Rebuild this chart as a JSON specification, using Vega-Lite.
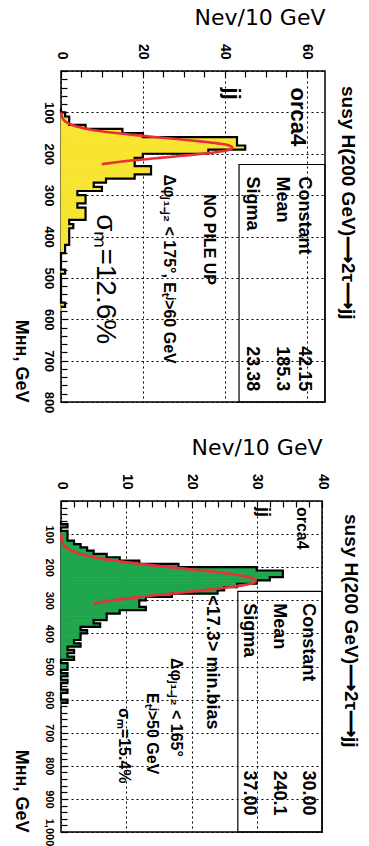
{
"$schema": "https://vega.github.io/schema/vega-lite/v6.json",
"background": "white",
"padding": {"left": 10, "top": 5, "right": 0, "bottom": 0},
"spacing": 21,
"config": {"view": {"stroke": "black", "strokeWidth": 1.5}, "font": "Liberation Sans"},
"datasets": {
"top": [
{"lo":90,"hi":100,"n":0},{"lo":100,"hi":110,"n":1},{"lo":110,"hi":120,"n":2},{"lo":120,"hi":130,"n":2},{"lo":130,"hi":140,"n":6},{"lo":140,"hi":150,"n":15},{"lo":150,"hi":160,"n":20},{"lo":160,"hi":170,"n":43},{"lo":170,"hi":180,"n":43},{"lo":180,"hi":190,"n":45},{"lo":190,"hi":200,"n":36},{"lo":200,"hi":210,"n":20},{"lo":210,"hi":220,"n":18},{"lo":220,"hi":230,"n":18},{"lo":230,"hi":240,"n":22},{"lo":240,"hi":250,"n":22},{"lo":250,"hi":260,"n":18},{"lo":260,"hi":270,"n":11},{"lo":270,"hi":280,"n":8},{"lo":280,"hi":290,"n":10},{"lo":290,"hi":300,"n":4},{"lo":300,"hi":310,"n":6},{"lo":310,"hi":320,"n":6},{"lo":320,"hi":330,"n":4},{"lo":330,"hi":340,"n":6},{"lo":340,"hi":350,"n":6},{"lo":350,"hi":360,"n":6},{"lo":360,"hi":370,"n":2},{"lo":370,"hi":380,"n":3},{"lo":380,"hi":390,"n":2},{"lo":390,"hi":400,"n":2},{"lo":400,"hi":410,"n":2},{"lo":410,"hi":420,"n":2},{"lo":420,"hi":430,"n":1},{"lo":430,"hi":440,"n":1},{"lo":440,"hi":450,"n":0},{"lo":480,"hi":490,"n":1},{"lo":490,"hi":500,"n":0},{"lo":560,"hi":570,"n":1},{"lo":570,"hi":580,"n":0}
],
"topfit": [
{"m":100,"f":0.054},{"m":105,"f":0.116},{"m":110,"f":0.236},{"m":115,"f":0.459},{"m":120,"f":0.853},{"m":125,"f":1.514},{"m":130,"f":2.569},{"m":135,"f":4.166},{"m":140,"f":6.451},{"m":145,"f":9.542},{"m":150,"f":13.484},{"m":155,"f":18.201},{"m":160,"f":23.471},{"m":165,"f":28.912},{"m":170,"f":34.026},{"m":175,"f":38.253},{"m":180,"f":41.08},{"m":185,"f":42.147},{"m":190,"f":41.307},{"m":195,"f":38.673},{"m":200,"f":34.59},{"m":205,"f":29.556},{"m":210,"f":24.125},{"m":215,"f":18.809},{"m":220,"f":14.012},{"m":225,"f":9.971}
],
"bot": [
{"lo":60,"hi":70,"n":0},{"lo":70,"hi":80,"n":1},{"lo":80,"hi":90,"n":0},{"lo":90,"hi":100,"n":1},{"lo":100,"hi":110,"n":1},{"lo":110,"hi":120,"n":1},{"lo":120,"hi":130,"n":2},{"lo":130,"hi":140,"n":3},{"lo":140,"hi":150,"n":4},{"lo":150,"hi":160,"n":5},{"lo":160,"hi":170,"n":7},{"lo":170,"hi":180,"n":9},{"lo":180,"hi":190,"n":12},{"lo":190,"hi":200,"n":18},{"lo":200,"hi":210,"n":30},{"lo":210,"hi":220,"n":34},{"lo":220,"hi":230,"n":34},{"lo":230,"hi":240,"n":32},{"lo":240,"hi":250,"n":30},{"lo":250,"hi":260,"n":27},{"lo":260,"hi":270,"n":25},{"lo":270,"hi":280,"n":24},{"lo":280,"hi":290,"n":17},{"lo":290,"hi":300,"n":13},{"lo":300,"hi":310,"n":12},{"lo":310,"hi":320,"n":12},{"lo":320,"hi":330,"n":13},{"lo":330,"hi":340,"n":9},{"lo":340,"hi":350,"n":7},{"lo":350,"hi":360,"n":7},{"lo":360,"hi":370,"n":5},{"lo":370,"hi":380,"n":6},{"lo":380,"hi":390,"n":3},{"lo":390,"hi":400,"n":4},{"lo":400,"hi":410,"n":3},{"lo":410,"hi":420,"n":3},{"lo":420,"hi":430,"n":2},{"lo":430,"hi":440,"n":3},{"lo":440,"hi":450,"n":1},{"lo":450,"hi":460,"n":2},{"lo":460,"hi":470,"n":1},{"lo":470,"hi":480,"n":2},{"lo":480,"hi":490,"n":0},{"lo":490,"hi":500,"n":1},{"lo":500,"hi":510,"n":1},{"lo":510,"hi":520,"n":0},{"lo":520,"hi":530,"n":1},{"lo":530,"hi":540,"n":0},{"lo":540,"hi":550,"n":1},{"lo":550,"hi":560,"n":0},{"lo":570,"hi":580,"n":1},{"lo":580,"hi":590,"n":0},{"lo":600,"hi":610,"n":1},{"lo":610,"hi":620,"n":0}
],
"botfit": [
{"m":100,"f":0.023},{"m":110,"f":0.062},{"m":120,"f":0.155},{"m":130,"f":0.358},{"m":140,"f":0.772},{"m":150,"f":1.547},{"m":160,"f":2.88},{"m":170,"f":4.985},{"m":180,"f":8.02},{"m":190,"f":11.994},{"m":200,"f":16.675},{"m":210,"f":21.548},{"m":215,"f":23.834},{"m":220,"f":25.883},{"m":225,"f":27.603},{"m":230,"f":28.903},{"m":235,"f":29.716},{"m":240,"f":30.0},{"m":245,"f":29.738},{"m":250,"f":28.945},{"m":255,"f":27.663},{"m":260,"f":25.961},{"m":265,"f":23.922},{"m":270,"f":21.643},{"m":280,"f":16.772},{"m":290,"f":12.083},{"m":300,"f":8.091},{"m":310,"f":5.036}
]
},
"vconcat": [
{
"width": 264, "height": 331,
"resolve": {"axis": {"x": "independent", "y": "independent"}},
"title": {"text": "susy H(200 GeV)⟶2τ⟶jj", "orient": "right", "anchor": "start", "frame": "group", "offset": 12, "dx": 15, "font": "Liberation Sans", "fontSize": 19, "fontWeight": "bold", "color": "black"},
"layer": [
{"data": {"name": "top"}, "mark": {"type": "rect", "fill": "#f7e531", "stroke": "#f7e531", "strokeWidth": 0.8},
 "encoding": {
  "x": {"field": "n", "type": "quantitative", "scale": {"domain": [0, 64.5], "nice": false, "zero": false},
   "axis": {"orient": "top", "values": [0,5,10,15,20,25,30,35,40,45,50,55,60], "labelExpr": "datum.value % 20 === 0 ? datum.label : ''", "labelOverlap": false, "labelFlush": false, "labelBound": false, "labelAngle": 90, "labelAlign": "right", "labelBaseline": "middle", "labelFont": "Liberation Sans", "labelFontWeight": "bold", "labelFontSize": 14, "labelColor": "black", "labelPadding": 18, "tickSize": -6, "tickColor": "black", "tickWidth": 1.2, "domain": false, "grid": true, "gridColor": "black", "gridDash": [2,3], "gridWidth": 1, "gridOpacity": {"condition": {"test": "datum.value % 20 === 0", "value": 1}, "value": 0}, "title": "Nev/10 GeV", "titleAngle": 0, "titleAnchor": "end", "titleAlign": "right", "titleBaseline": "bottom", "titleFont": "DejaVu Sans", "titleFontSize": 22, "titleFontWeight": "normal", "titleColor": "black", "titlePadding": 14}},
  "x2": {"datum": 0},
  "y": {"field": "lo", "type": "quantitative", "scale": {"domain": [0, 800], "reverse": true, "nice": false, "zero": false},
   "axis": {"orient": "left", "values": [0,20,40,60,80,100,120,140,160,180,200,220,240,260,280,300,320,340,360,380,400,420,440,460,480,500,520,540,560,580,600,620,640,660,680,700,720,740,760,780,800], "labelExpr": "datum.value % 100 === 0 && datum.value > 0 ? datum.label : ''", "labelOverlap": false, "labelFlush": false, "labelBound": false, "labelAngle": 90, "labelAlign": "center", "labelBaseline": "top", "labelFont": "Liberation Sans", "labelFontWeight": "bold", "labelFontSize": 13, "labelColor": "black", "labelPadding": 13, "tickSize": -6, "tickColor": "black", "tickWidth": 1.2, "domain": false, "grid": true, "gridColor": "black", "gridDash": [2,3], "gridWidth": 1, "gridOpacity": {"condition": {"test": "datum.value % 100 === 0", "value": 1}, "value": 0}, "title": "Mʜʜ, GeV", "titleAngle": 90, "titleAnchor": "end", "titleAlign": "right", "titleBaseline": "top", "titleFont": "Liberation Sans", "titleFontSize": 18, "titleFontWeight": "bold", "titleColor": "black", "titlePadding": 12}},
  "y2": {"field": "hi"}
 }},
{"data": {"name": "top"}, "mark": {"type": "line", "interpolate": "step-before", "stroke": "black", "strokeWidth": 2.2},
 "encoding": {
  "x": {"field": "n", "type": "quantitative", "scale": {"domain": [0, 64.5], "nice": false, "zero": false}, "axis": null},
  "y": {"field": "lo", "type": "quantitative", "scale": {"domain": [0, 800], "reverse": true, "nice": false, "zero": false}, "axis": null},
  "order": {"field": "lo", "type": "quantitative"}
 }},
{"data": {"name": "topfit"}, "mark": {"type": "line", "interpolate": "monotone", "stroke": "#e8303a", "strokeWidth": 2.6},
 "encoding": {
  "x": {"field": "f", "type": "quantitative", "scale": {"domain": [0, 64.5], "nice": false, "zero": false}, "axis": null},
  "y": {"field": "m", "type": "quantitative", "scale": {"domain": [0, 800], "reverse": true, "nice": false, "zero": false}, "axis": null},
  "order": {"field": "m", "type": "quantitative"}
 }},
{"data": {"values": [{"box": "stats"}]}, "mark": {"type": "rect", "fillOpacity": 0, "stroke": "black", "strokeWidth": 1.2},
 "encoding": {"x": {"datum": 43.5, "type": "quantitative", "axis": null}, "x2": {"datum": 64.5}, "y": {"datum": 226, "type": "quantitative", "axis": null}, "y2": {"datum": 800}}},
{"data": {"values": [{"t": "orca4"}]}, "mark": {"type": "text", "angle": 90, "align": "left", "baseline": "middle", "font": "Liberation Sans", "fontWeight": "bold", "fontSize": 22, "color": "black"},
 "encoding": {"text": {"field": "t"}, "x": {"datum": 57.8, "type": "quantitative", "axis": null}, "y": {"datum": 40, "type": "quantitative", "axis": null}}},
{"data": {"values": [{"t": "jj"}]}, "mark": {"type": "text", "angle": 90, "align": "left", "baseline": "middle", "font": "Liberation Sans", "fontWeight": "bold", "fontSize": 22, "color": "black"},
 "encoding": {"text": {"field": "t"}, "x": {"datum": 41.8, "type": "quantitative", "axis": null}, "y": {"datum": 40, "type": "quantitative", "axis": null}}},
{"data": {"values": [{"t": "Constant"}]}, "mark": {"type": "text", "angle": 90, "align": "left", "baseline": "middle", "font": "Liberation Sans", "fontWeight": "bold", "fontSize": 18, "color": "black"},
 "encoding": {"text": {"field": "t"}, "x": {"datum": 59.4, "type": "quantitative", "axis": null}, "y": {"datum": 255, "type": "quantitative", "axis": null}}},
{"data": {"values": [{"t": "Mean"}]}, "mark": {"type": "text", "angle": 90, "align": "left", "baseline": "middle", "font": "Liberation Sans", "fontWeight": "bold", "fontSize": 18, "color": "black"},
 "encoding": {"text": {"field": "t"}, "x": {"datum": 54, "type": "quantitative", "axis": null}, "y": {"datum": 255, "type": "quantitative", "axis": null}}},
{"data": {"values": [{"t": "Sigma"}]}, "mark": {"type": "text", "angle": 90, "align": "left", "baseline": "middle", "font": "Liberation Sans", "fontWeight": "bold", "fontSize": 18, "color": "black"},
 "encoding": {"text": {"field": "t"}, "x": {"datum": 46.7, "type": "quantitative", "axis": null}, "y": {"datum": 255, "type": "quantitative", "axis": null}}},
{"data": {"values": [{"t": "42.15"}]}, "mark": {"type": "text", "angle": 90, "align": "right", "baseline": "middle", "font": "Liberation Sans", "fontWeight": "bold", "fontSize": 18, "color": "black"},
 "encoding": {"text": {"field": "t"}, "x": {"datum": 59.4, "type": "quantitative", "axis": null}, "y": {"datum": 774, "type": "quantitative", "axis": null}}},
{"data": {"values": [{"t": "185.3"}]}, "mark": {"type": "text", "angle": 90, "align": "right", "baseline": "middle", "font": "Liberation Sans", "fontWeight": "bold", "fontSize": 18, "color": "black"},
 "encoding": {"text": {"field": "t"}, "x": {"datum": 54, "type": "quantitative", "axis": null}, "y": {"datum": 774, "type": "quantitative", "axis": null}}},
{"data": {"values": [{"t": "23.38"}]}, "mark": {"type": "text", "angle": 90, "align": "right", "baseline": "middle", "font": "Liberation Sans", "fontWeight": "bold", "fontSize": 18, "color": "black"},
 "encoding": {"text": {"field": "t"}, "x": {"datum": 46.7, "type": "quantitative", "axis": null}, "y": {"datum": 774, "type": "quantitative", "axis": null}}},
{"data": {"values": [{"t": "NO PILE UP"}]}, "mark": {"type": "text", "angle": 90, "align": "left", "baseline": "middle", "font": "Liberation Sans", "fontWeight": "bold", "fontSize": 16, "color": "black"},
 "encoding": {"text": {"field": "t"}, "x": {"datum": 36.2, "type": "quantitative", "axis": null}, "y": {"datum": 298, "type": "quantitative", "axis": null}}},
{"data": {"values": [{"t": "Δφⱼ₁₋ⱼ₂ < 175°, Eₜʲ>60 GeV"}]}, "mark": {"type": "text", "angle": 90, "align": "left", "baseline": "middle", "font": "Liberation Sans", "fontWeight": "bold", "fontSize": 16, "color": "black"},
 "encoding": {"text": {"field": "t"}, "x": {"datum": 26.4, "type": "quantitative", "axis": null}, "y": {"datum": 250, "type": "quantitative", "axis": null}}},
{"data": {"values": [{"t": "σₘ=12.6%"}]}, "mark": {"type": "text", "angle": 90, "align": "left", "baseline": "middle", "font": "Liberation Sans", "fontWeight": "normal", "fontSize": 28, "color": "black"},
 "encoding": {"text": {"field": "t"}, "x": {"datum": 10.8, "type": "quantitative", "axis": null}, "y": {"datum": 346, "type": "quantitative", "axis": null}}}
]
},
{
"width": 261, "height": 331,
"resolve": {"axis": {"x": "independent", "y": "independent"}},
"title": {"text": "susy H(200 GeV)⟶2τ⟶jj", "orient": "right", "anchor": "start", "frame": "group", "offset": 12, "dx": 13, "font": "Liberation Sans", "fontSize": 19, "fontWeight": "bold", "color": "black"},
"layer": [
{"data": {"name": "bot"}, "mark": {"type": "rect", "fill": "#1fa64c", "stroke": "#1fa64c", "strokeWidth": 0.8},
 "encoding": {
  "x": {"field": "n", "type": "quantitative", "scale": {"domain": [0, 40], "nice": false, "zero": false},
   "axis": {"orient": "top", "values": [0,2,4,6,8,10,12,14,16,18,20,22,24,26,28,30,32,34,36,38,40], "labelExpr": "datum.value % 10 === 0 ? datum.label : ''", "labelOverlap": false, "labelFlush": false, "labelBound": false, "labelAngle": 90, "labelAlign": "right", "labelBaseline": "middle", "labelFont": "Liberation Sans", "labelFontWeight": "bold", "labelFontSize": 14, "labelColor": "black", "labelPadding": 18, "tickSize": -6, "tickColor": "black", "tickWidth": 1.2, "domain": false, "grid": true, "gridColor": "black", "gridDash": [2,3], "gridWidth": 1, "gridOpacity": {"condition": {"test": "datum.value % 10 === 0", "value": 1}, "value": 0}, "title": "Nev/10 GeV", "titleAngle": 0, "titleAnchor": "end", "titleAlign": "right", "titleBaseline": "bottom", "titleFont": "DejaVu Sans", "titleFontSize": 22, "titleFontWeight": "normal", "titleColor": "black", "titlePadding": 14}},
  "x2": {"datum": 0},
  "y": {"field": "lo", "type": "quantitative", "scale": {"domain": [0, 1000], "reverse": true, "nice": false, "zero": false},
   "axis": {"orient": "left", "values": [0,20,40,60,80,100,120,140,160,180,200,220,240,260,280,300,320,340,360,380,400,420,440,460,480,500,520,540,560,580,600,620,640,660,680,700,720,740,760,780,800,820,840,860,880,900,920,940,960,980,1000], "labelExpr": "datum.value % 100 === 0 && datum.value > 0 ? datum.label : ''", "labelOverlap": false, "labelFlush": false, "labelBound": false, "labelAngle": 90, "labelAlign": "center", "labelBaseline": "top", "labelFont": "Liberation Sans", "labelFontWeight": "bold", "labelFontSize": 11, "labelColor": "black", "labelPadding": 13, "tickSize": -6, "tickColor": "black", "tickWidth": 1.2, "domain": false, "grid": true, "gridColor": "black", "gridDash": [2,3], "gridWidth": 1, "gridOpacity": {"condition": {"test": "datum.value % 100 === 0", "value": 1}, "value": 0}, "title": "Mʜʜ, GeV", "titleAngle": 90, "titleAnchor": "end", "titleAlign": "right", "titleBaseline": "top", "titleFont": "Liberation Sans", "titleFontSize": 18, "titleFontWeight": "bold", "titleColor": "black", "titlePadding": 14}},
  "y2": {"field": "hi"}
 }},
{"data": {"name": "bot"}, "mark": {"type": "line", "interpolate": "step-before", "stroke": "black", "strokeWidth": 2.2},
 "encoding": {
  "x": {"field": "n", "type": "quantitative", "scale": {"domain": [0, 40], "nice": false, "zero": false}, "axis": null},
  "y": {"field": "lo", "type": "quantitative", "scale": {"domain": [0, 1000], "reverse": true, "nice": false, "zero": false}, "axis": null},
  "order": {"field": "lo", "type": "quantitative"}
 }},
{"data": {"name": "botfit"}, "mark": {"type": "line", "interpolate": "monotone", "stroke": "#e8303a", "strokeWidth": 2.6},
 "encoding": {
  "x": {"field": "f", "type": "quantitative", "scale": {"domain": [0, 40], "nice": false, "zero": false}, "axis": null},
  "y": {"field": "m", "type": "quantitative", "scale": {"domain": [0, 1000], "reverse": true, "nice": false, "zero": false}, "axis": null},
  "order": {"field": "m", "type": "quantitative"}
 }},
{"data": {"values": [{"box": "stats"}]}, "mark": {"type": "rect", "fillOpacity": 0, "stroke": "black", "strokeWidth": 1.2},
 "encoding": {"x": {"datum": 27.1, "type": "quantitative", "axis": null}, "x2": {"datum": 40}, "y": {"datum": 273, "type": "quantitative", "axis": null}, "y2": {"datum": 1000}}},
{"data": {"values": [{"t": "orca4"}]}, "mark": {"type": "text", "angle": 90, "align": "left", "baseline": "middle", "font": "Liberation Sans", "fontWeight": "bold", "fontSize": 16, "color": "black"},
 "encoding": {"text": {"field": "t"}, "x": {"datum": 36.9, "type": "quantitative", "axis": null}, "y": {"datum": 18, "type": "quantitative", "axis": null}}},
{"data": {"values": [{"t": "jj"}]}, "mark": {"type": "text", "angle": 90, "align": "left", "baseline": "middle", "font": "Liberation Sans", "fontWeight": "bold", "fontSize": 18, "color": "black"},
 "encoding": {"text": {"field": "t"}, "x": {"datum": 31, "type": "quantitative", "axis": null}, "y": {"datum": 18, "type": "quantitative", "axis": null}}},
{"data": {"values": [{"t": "Constant"}]}, "mark": {"type": "text", "angle": 90, "align": "left", "baseline": "middle", "font": "Liberation Sans", "fontWeight": "bold", "fontSize": 18, "color": "black"},
 "encoding": {"text": {"field": "t"}, "x": {"datum": 37.8, "type": "quantitative", "axis": null}, "y": {"datum": 309, "type": "quantitative", "axis": null}}},
{"data": {"values": [{"t": "Mean"}]}, "mark": {"type": "text", "angle": 90, "align": "left", "baseline": "middle", "font": "Liberation Sans", "fontWeight": "bold", "fontSize": 18, "color": "black"},
 "encoding": {"text": {"field": "t"}, "x": {"datum": 33.4, "type": "quantitative", "axis": null}, "y": {"datum": 309, "type": "quantitative", "axis": null}}},
{"data": {"values": [{"t": "Sigma"}]}, "mark": {"type": "text", "angle": 90, "align": "left", "baseline": "middle", "font": "Liberation Sans", "fontWeight": "bold", "fontSize": 18, "color": "black"},
 "encoding": {"text": {"field": "t"}, "x": {"datum": 28.8, "type": "quantitative", "axis": null}, "y": {"datum": 309, "type": "quantitative", "axis": null}}},
{"data": {"values": [{"t": "30.00"}]}, "mark": {"type": "text", "angle": 90, "align": "right", "baseline": "middle", "font": "Liberation Sans", "fontWeight": "bold", "fontSize": 18, "color": "black"},
 "encoding": {"text": {"field": "t"}, "x": {"datum": 37.8, "type": "quantitative", "axis": null}, "y": {"datum": 950, "type": "quantitative", "axis": null}}},
{"data": {"values": [{"t": "240.1"}]}, "mark": {"type": "text", "angle": 90, "align": "right", "baseline": "middle", "font": "Liberation Sans", "fontWeight": "bold", "fontSize": 18, "color": "black"},
 "encoding": {"text": {"field": "t"}, "x": {"datum": 33.4, "type": "quantitative", "axis": null}, "y": {"datum": 950, "type": "quantitative", "axis": null}}},
{"data": {"values": [{"t": "37.00"}]}, "mark": {"type": "text", "angle": 90, "align": "right", "baseline": "middle", "font": "Liberation Sans", "fontWeight": "bold", "fontSize": 18, "color": "black"},
 "encoding": {"text": {"field": "t"}, "x": {"datum": 28.8, "type": "quantitative", "axis": null}, "y": {"datum": 950, "type": "quantitative", "axis": null}}},
{"data": {"values": [{"t": "<17.3> min.bias"}]}, "mark": {"type": "text", "angle": 90, "align": "left", "baseline": "middle", "font": "Liberation Sans", "fontWeight": "bold", "fontSize": 18, "color": "black"},
 "encoding": {"text": {"field": "t"}, "x": {"datum": 23.1, "type": "quantitative", "axis": null}, "y": {"datum": 285, "type": "quantitative", "axis": null}}},
{"data": {"values": [{"t": "Δφⱼ₁₋ⱼ₂ < 165°"}]}, "mark": {"type": "text", "angle": 90, "align": "left", "baseline": "middle", "font": "Liberation Sans", "fontWeight": "bold", "fontSize": 16, "color": "black"},
 "encoding": {"text": {"field": "t"}, "x": {"datum": 17.7, "type": "quantitative", "axis": null}, "y": {"datum": 474, "type": "quantitative", "axis": null}}},
{"data": {"values": [{"t": "Eₜʲ>50 GeV"}]}, "mark": {"type": "text", "angle": 90, "align": "left", "baseline": "middle", "font": "Liberation Sans", "fontWeight": "bold", "fontSize": 16, "color": "black"},
 "encoding": {"text": {"field": "t"}, "x": {"datum": 14, "type": "quantitative", "axis": null}, "y": {"datum": 580, "type": "quantitative", "axis": null}}},
{"data": {"values": [{"t": "σₘ=15.4%"}]}, "mark": {"type": "text", "angle": 90, "align": "left", "baseline": "middle", "font": "Liberation Sans", "fontWeight": "bold", "fontSize": 16, "color": "black"},
 "encoding": {"text": {"field": "t"}, "x": {"datum": 9.7, "type": "quantitative", "axis": null}, "y": {"datum": 625, "type": "quantitative", "axis": null}}}
]
}
]
}
